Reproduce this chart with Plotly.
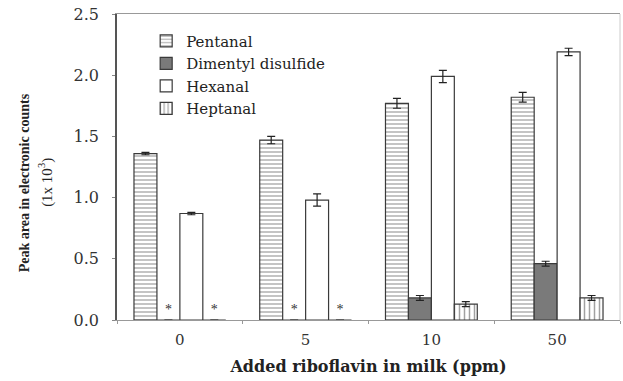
import plotly.graph_objects as go

categories = ["0", "5", "10", "50"]
pentanal = [1.36, 1.47, 1.77, 1.82]
pentanal_err = [0.01, 0.03, 0.04, 0.04]
dimethyl = [0.0, 0.0, 0.18, 0.46]
dimethyl_err = [0.0, 0.0, 0.02, 0.02]
hexanal = [0.87, 0.98, 1.99, 2.19]
hexanal_err = [0.01, 0.05, 0.05, 0.03]
heptanal = [0.0, 0.0, 0.13, 0.18]
heptanal_err = [0.0, 0.0, 0.02, 0.02]

line_col = "#3a3a3a"
wide_serif = "DejaVu Serif, serif"
narrow_serif = "Liberation Serif, Times New Roman, serif"

def stars(vals):
    return ["*" if v == 0 else "" for v in vals]

def bar(name, vals, errs, fill, pattern=None):
    return go.Bar(
        name=name, x=categories, y=vals,
        error_y=dict(type="data", array=errs, visible=True, color="#222",
                     thickness=1.2, width=4),
        marker=dict(color=fill, line=dict(color=line_col, width=1.2),
                    pattern=pattern),
        text=stars(vals), textposition="outside", cliponaxis=False,
        textfont=dict(family=narrow_serif, size=14, color="#333333"),
        outsidetextfont=dict(family=narrow_serif, size=14, color="#333333"),
        hoverinfo="skip",
    )

fig = go.Figure()
fig.add_trace(bar("Pentanal", pentanal, pentanal_err, "white",
                  dict(shape="-", fgcolor="#555", bgcolor="white", size=4, solidity=0.35)))
fig.add_trace(bar("Dimentyl disulfide", dimethyl, dimethyl_err, "#7a7a7a"))
fig.add_trace(bar("Hexanal", hexanal, hexanal_err, "white"))
fig.add_trace(bar("Heptanal", heptanal, heptanal_err, "white",
                  dict(shape="|", fgcolor="#444", bgcolor="white", size=5, solidity=0.3)))

fig.update_layout(
    width=623, height=381,
    margin=dict(l=117, r=3, t=14, b=61),
    paper_bgcolor="white", plot_bgcolor="white",
    barmode="group", bargap=0.27, bargroupgap=0,
    font=dict(family=wide_serif, color="#333"),
    showlegend=True,
    legend=dict(x=0.058, y=0.965, xanchor="left", yanchor="top",
                bgcolor="rgba(0,0,0,0)", font=dict(family=wide_serif, size=15, color="#222"),
                tracegroupgap=0, itemwidth=30, traceorder="normal"),
    xaxis=dict(
        type="category", showline=True, linecolor="#999", linewidth=1,
        mirror=True, ticks="outside", tickson="boundaries", ticklen=3,
        tickcolor="#999", showgrid=False, ticklabelstandoff=6,
        tickfont=dict(family=wide_serif, size=15, color="#333"),
        title=dict(text="<b>Added riboflavin in milk (ppm)</b>",
                   font=dict(family=wide_serif, size=16, color="#222"), standoff=12),
    ),
    yaxis=dict(
        range=[0, 2.5], dtick=0.5, tickformat=".1f",
        showline=True, linecolor="#555", linewidth=1.5, mirror=False,
        ticks="outside", ticklen=3, tickcolor="#888", showgrid=False,
        zeroline=False, ticklabelstandoff=10, ticklabeloverflow="allow",
        tickfont=dict(family=wide_serif, size=16, color="#333"),
    ),
    shapes=[dict(type="line", xref="paper", yref="paper", x0=1, x1=1, y0=0, y1=1,
                 line=dict(color="#ccc", width=1))],
    annotations=[
        dict(text="<b>Peak area in electronic counts</b>", textangle=-90,
             xref="paper", yref="paper", x=-0.185, y=0.45, xanchor="center", yanchor="middle",
             showarrow=False, font=dict(family=narrow_serif, size=14, color="#222")),
        dict(text="(1x 10<sup>3</sup>)", textangle=-90,
             xref="paper", yref="paper", x=-0.142, y=0.45, xanchor="center", yanchor="middle",
             showarrow=False, font=dict(family=narrow_serif, size=15, color="#222")),
    ],
)

fig.write_html("out.html", config={"displayModeBar": False},
               post_script="document.body.style.margin='0';")
